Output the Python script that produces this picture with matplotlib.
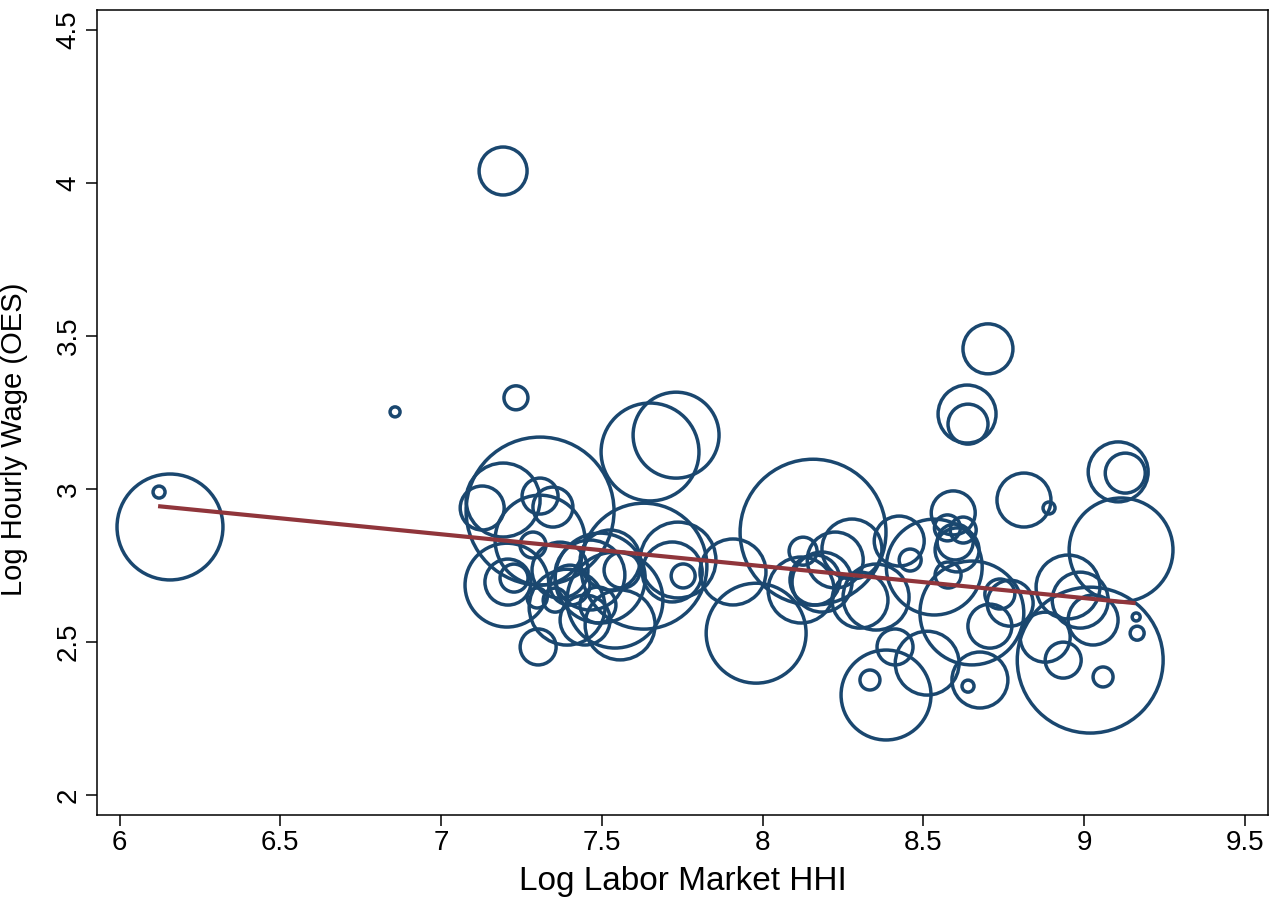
import matplotlib
matplotlib.use("Agg")
import matplotlib.pyplot as plt
import numpy as np

plt.rcParams['font.family'] = ['Liberation Sans', 'DejaVu Sans']

# Log labor market HHI (x), log hourly wage (y), employment weight (bubble area)
hhi = [6.157, 6.123, 6.857, 7.233, 7.193,
       8.701, 8.636, 8.639, 8.813, 8.891, 9.106, 9.128, 9.115,
       7.650, 7.731, 7.128, 7.193, 7.308, 7.308, 7.348, 7.308, 7.286, 7.205, 7.208,
       7.227, 7.302, 7.299, 7.392, 7.463, 7.495, 7.488, 7.526, 7.557, 7.563, 7.631,
       7.541, 7.719, 7.753, 7.737, 7.401, 7.355, 7.448, 7.370,
       7.908, 7.980, 8.157, 8.126, 8.120, 8.163, 8.226, 8.278, 8.353, 8.185, 8.425,
       8.459, 8.384, 8.334, 8.412, 8.512, 8.534, 8.303,
       8.593, 8.575, 8.624, 8.599, 8.605, 8.577, 8.651, 8.707, 8.738, 8.770, 8.639,
       8.676, 8.950, 8.988, 9.028, 8.879, 8.935, 9.019, 9.162, 9.165, 9.059]
wage = [2.876, 2.990, 3.252, 3.298, 4.039,
        3.458, 3.245, 3.212, 2.964, 2.938, 3.056, 3.052, 2.801,
        3.121, 3.176, 2.938, 2.964, 2.928, 2.977, 2.941, 2.833, 2.817, 2.686, 2.696,
        2.709, 2.484, 2.644, 2.614, 2.719, 2.709, 2.621, 2.768, 2.556, 2.735, 2.748,
        2.637, 2.729, 2.716, 2.768, 2.686, 2.637, 2.572, 2.735,
        2.729, 2.529, 2.859, 2.797, 2.670, 2.703, 2.768, 2.804, 2.647, 2.696, 2.830,
        2.768, 2.327, 2.376, 2.484, 2.431, 2.745, 2.637,
        2.922, 2.873, 2.866, 2.827, 2.801, 2.719, 2.595, 2.552, 2.657, 2.627, 2.356,
        2.376, 2.680, 2.637, 2.572, 2.516, 2.441, 2.441, 2.582, 2.529, 2.386]
weight = [28.1, 0.36, 0.25, 1.44, 5.76,
          6.25, 8.41, 4.0, 7.29, 0.36, 9.0, 4.0, 27.0,
          24.0, 18.5, 4.84, 13.7, 54.8, 3.24, 4.0, 20.25, 1.69, 17.6, 5.29,
          1.96, 3.24, 1.0, 14.4, 12.25, 20.25, 3.24, 9.0, 12.25, 3.24, 39.7,
          23.0, 9.0, 1.44, 14.4, 4.0, 1.44, 6.25, 7.84,
          10.9, 25.0, 53.3, 1.96, 10.9, 6.25, 7.84, 9.0, 10.9, 9.0, 6.25,
          1.21, 20.25, 1.0, 3.24, 10.2, 23.0, 7.84,
          4.84, 1.69, 1.69, 3.24, 4.84, 1.69, 27.0, 4.84, 2.25, 5.29, 0.36,
          7.84, 10.2, 7.84, 6.25, 6.25, 3.24, 53.3, 0.16, 0.49, 1.0]

# Fitted (weighted) regression line
fit_x = [6.12, 9.16]
fit_y = [2.944, 2.627]

x_ticks = [6, 6.5, 7, 7.5, 8, 8.5, 9, 9.5]
x_tick_labels = ["6", "6.5", "7", "7.5", "8", "8.5", "9", "9.5"]
y_ticks = [2, 2.5, 3, 3.5, 4, 4.5]
y_tick_labels = ["2", "2.5", "3", "3.5", "4", "4.5"]

navy = "#1a476f"
maroon = "#90353b"

fig = plt.figure(figsize=(12.78, 8.98), dpi=100)
ax = fig.add_axes([97/1278, 1 - 815/898, (1268-97)/1278, (815-10)/898])

sizes = np.array(weight) * 207.0
ax.scatter(hhi, wage, s=sizes, facecolors='none', edgecolors=navy,
           linewidths=2.5, zorder=2)
ax.plot(fit_x, fit_y, color=maroon, linewidth=3.0, zorder=3,
        solid_capstyle='butt')

ax.set_xlim(5.93, 9.572)
ax.set_ylim(1.935, 4.565)
ax.set_xticks(x_ticks)
ax.set_xticklabels(x_tick_labels)
ax.set_yticks(y_ticks)
ax.set_yticklabels(y_tick_labels, rotation=90, va='center')

ax.tick_params(axis='both', direction='out', length=8, width=1.1,
               labelsize=20, colors='black')
ax.tick_params(axis='x', pad=3)
ax.tick_params(axis='y', pad=3)
for sp in ax.spines.values():
    sp.set_linewidth(1.1)
    sp.set_color('black')

ax.set_xlabel("Log Labor Market HHI", fontsize=24, labelpad=7)
ax.set_ylabel("Log Hourly Wage (OES)", fontsize=21)
ax.yaxis.set_label_coords(-0.059, 0.467)

fig.savefig("out.png", dpi=100, facecolor='white')
